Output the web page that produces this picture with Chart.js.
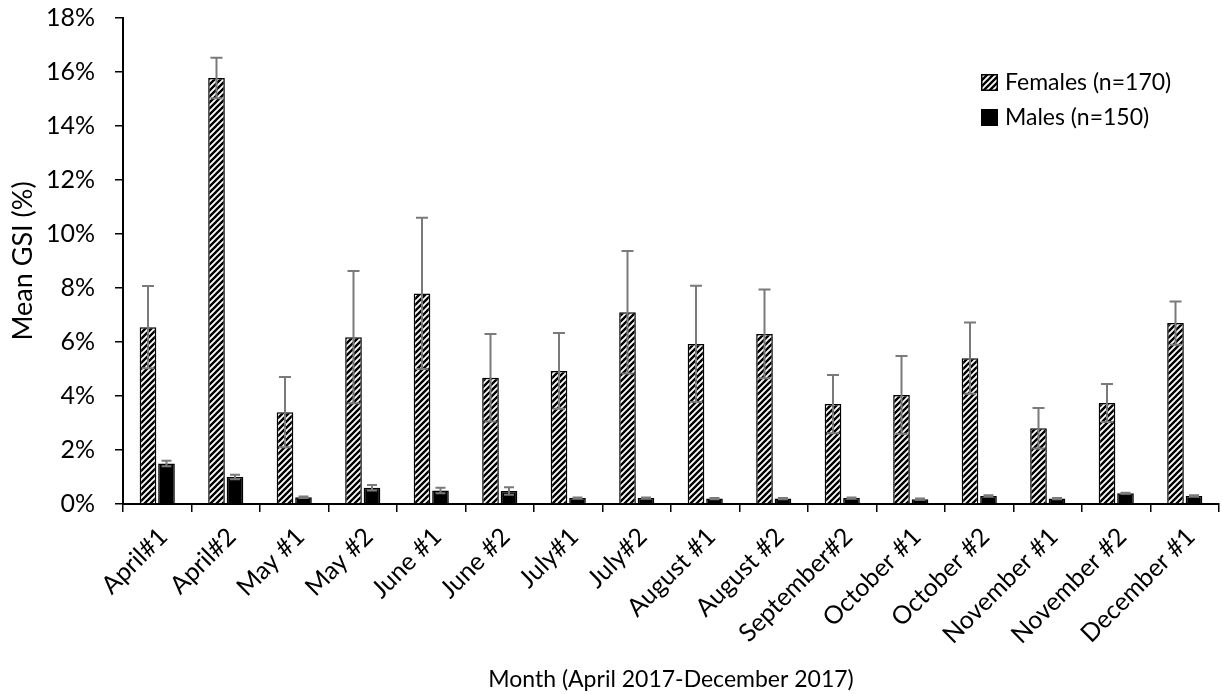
<!DOCTYPE html>
<html>
<head>
<meta charset="utf-8">
<script src="https://cdn.jsdelivr.net/npm/chart.js@4/dist/chart.umd.min.js"></script>
<style>
  html, body { margin: 0; padding: 0; background: #fff; }
  #wrap { width: 1222px; height: 694px; position: relative; }
</style>
</head>
<body>
<div id="wrap"><canvas id="c" width="1222" height="694"></canvas></div>
<script>
// Monthly sampling periods
const months = ["April#1", "April#2", "May #1", "May #2", "June #1", "June #2", "July#1", "July#2",
  "August #1", "August #2", "September#2", "October #1", "October #2", "November #1", "November #2", "December #1"];

// Mean GSI (%) and standard error, females
const femaleMean = [6.55, 15.78, 3.40, 6.18, 7.80, 4.68, 4.93, 7.10, 5.93, 6.30, 3.70, 4.04, 5.40, 2.81, 3.74, 6.70];
const femaleErr  = [1.52, 0.75, 1.30, 2.45, 2.80, 1.62, 1.40, 2.27, 2.15, 1.64, 1.08, 1.44, 1.32, 0.75, 0.70, 0.80];

// Mean GSI (%) and standard error, males
const maleMean = [1.50, 1.00, 0.25, 0.60, 0.50, 0.48, 0.22, 0.22, 0.20, 0.20, 0.22, 0.18, 0.30, 0.20, 0.40, 0.30];
const maleErr  = [0.10, 0.08, 0.03, 0.10, 0.10, 0.14, 0.02, 0.02, 0.02, 0.02, 0.02, 0.02, 0.02, 0.02, 0.02, 0.02];

const seriesNames = ["Females (n=170)", "Males (n=150)"];
const yTicks = [0, 2, 4, 6, 8, 10, 12, 14, 16, 18];

const FONT = "Lato, 'Open Sans', sans-serif";

// Diagonal hatch fill for the female bars
function makeHatch() {
  const s = 6;
  const pc = document.createElement('canvas');
  pc.width = s; pc.height = s;
  const p = pc.getContext('2d');
  p.fillStyle = '#ffffff';
  p.fillRect(0, 0, s, s);
  p.strokeStyle = '#000000';
  p.lineWidth = 2.4;
  p.beginPath();
  p.moveTo(-1, s + 1); p.lineTo(s + 1, -1);
  p.moveTo(-1, 1); p.lineTo(1, -1);
  p.moveTo(s - 1, s + 1); p.lineTo(s + 1, s - 1);
  p.stroke();
  return document.getElementById('c').getContext('2d').createPattern(pc, 'repeat');
}
const hatch = makeHatch();

// Symmetric error bars with caps, placed through the chart's own scales
const errorBars = {
  id: 'errorBars',
  afterDatasetsDraw(chart) {
    const ctx = chart.ctx;
    const y = chart.scales.y;
    const errs = [femaleErr, maleErr];
    ctx.save();
    ctx.strokeStyle = '#7a7a7a';
    ctx.lineWidth = 2;
    chart.data.datasets.forEach((ds, di) => {
      const meta = chart.getDatasetMeta(di);
      meta.data.forEach((bar, i) => {
        const v = ds.data[i], e = errs[di][i];
        const yt = y.getPixelForValue(v + e);
        const yb = y.getPixelForValue(Math.max(0, v - e));
        const cap = di === 0 ? 6 : 5;
        ctx.beginPath();
        ctx.moveTo(bar.x, yt); ctx.lineTo(bar.x, yb);
        ctx.moveTo(bar.x - cap, yt); ctx.lineTo(bar.x + cap, yt);
        ctx.moveTo(bar.x - cap, yb); ctx.lineTo(bar.x + cap, yb);
        ctx.stroke();
      });
    });
    ctx.restore();
  }
};

// Legend drawn inside the plot, top right
const insideLegend = {
  id: 'insideLegend',
  afterDraw(chart) {
    const ctx = chart.ctx;
    const fills = [hatch, '#000000'];
    ctx.save();
    ctx.font = "23px " + FONT;
    ctx.textBaseline = 'middle';
    seriesNames.forEach((name, i) => {
      const bx = 981, by = 74 + i * 35;
      ctx.fillStyle = fills[i];
      ctx.fillRect(bx, by, 17, 17);
      ctx.strokeStyle = '#000';
      ctx.lineWidth = 1.5;
      ctx.strokeRect(bx + 0.75, by + 0.75, 15.5, 15.5);
      ctx.fillStyle = '#000';
      ctx.fillText(name, 1005, by + 9);
    });
    ctx.restore();
  }
};

new Chart(document.getElementById('c'), {
  type: 'bar',
  data: {
    labels: months,
    datasets: [
      { label: seriesNames[0], data: femaleMean, backgroundColor: hatch, borderColor: '#000', borderWidth: 1.5,
        categoryPercentage: 0.54, barPercentage: 0.9 },
      { label: seriesNames[1], data: maleMean, backgroundColor: '#000', borderColor: '#000', borderWidth: 1.5,
        categoryPercentage: 0.54, barPercentage: 0.9 }
    ]
  },
  options: {
    responsive: false,
    animation: false,
    devicePixelRatio: 1,
    layout: { padding: { top: 18, right: 3, bottom: 0, left: 0 } },
    plugins: { legend: { display: false }, tooltip: { enabled: false } },
    scales: {
      x: {
        offset: true,
        grid: { display: true, offset: true, drawOnChartArea: false, color: '#000', tickLength: 8, lineWidth: 1.5 },
        border: { display: true, color: '#000', width: 2 },
        ticks: { color: '#000', font: { family: FONT, size: 25 }, minRotation: 45, maxRotation: 45, autoSkip: false,
                 padding: 10, labelOffset: 6 },
        title: { display: true, text: 'Month (April 2017-December 2017)', color: '#000',
                 font: { family: FONT, size: 23 }, padding: { top: 1, bottom: 1 } },
        afterFit(scale) {
          scale.height = 190;
          scale.paddingTop = 0; scale.paddingBottom = 0; scale.paddingLeft = 0; scale.paddingRight = 0;
        }
      },
      y: {
        min: 0, max: 18,
        afterBuildTicks(scale) { scale.ticks = yTicks.map(v => ({ value: v })); },
        grid: { display: true, drawOnChartArea: false, color: '#000', tickLength: 8, lineWidth: 1.5 },
        border: { display: true, color: '#000', width: 2 },
        ticks: { color: '#000', font: { family: FONT, size: 25 }, padding: 20, callback: v => v + '%' },
        title: { display: true, text: 'Mean GSI (%)', color: '#000',
                 font: { family: FONT, size: 27 }, padding: { top: 7, bottom: 4 } },
        afterFit(scale) {
          scale.width = 123;
          scale.paddingTop = 0; scale.paddingBottom = 0;
        }
      }
    }
  },
  plugins: [errorBars, insideLegend]
});
</script>
</body>
</html>
